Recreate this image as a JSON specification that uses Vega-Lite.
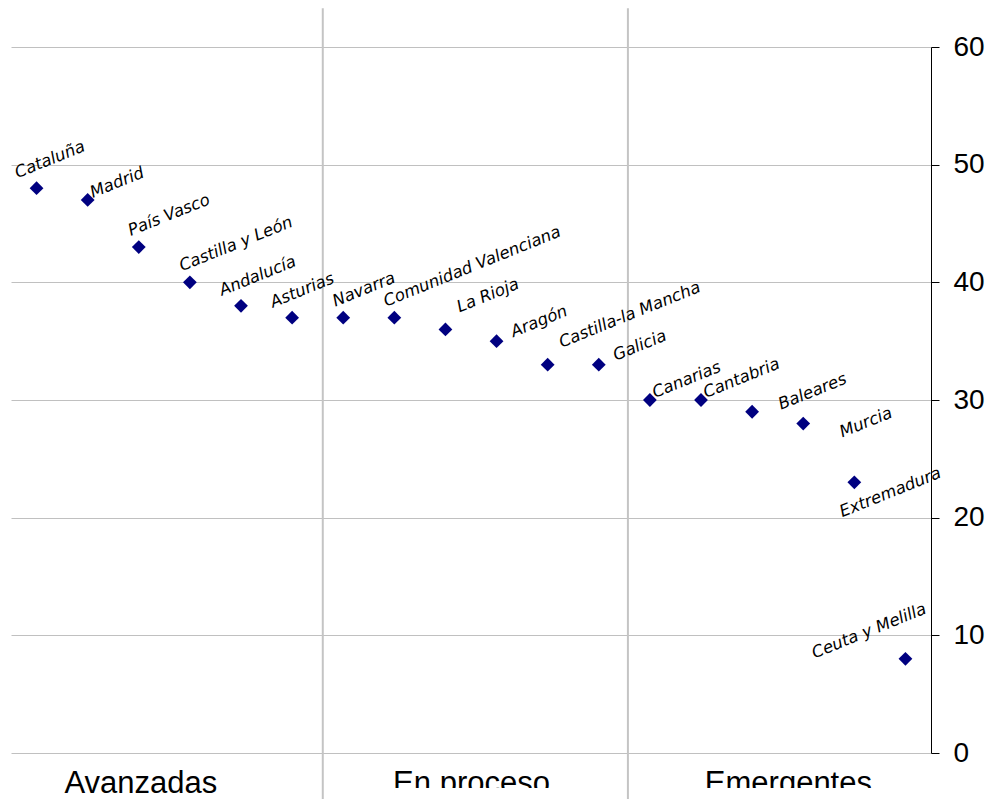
{
  "$schema": "https://vega.github.io/schema/vega-lite/v6.json",
  "width": 920,
  "height": 706,
  "autosize": "none",
  "padding": {"left": 11, "top": 47, "right": 64, "bottom": 46},
  "background": "white",
  "config": {"view": {"stroke": null}},
  "layer": [
    {
      "data": {"values": [
        {"grupo": "Avanzadas", "centro": 3.04},
        {"grupo": "En proceso", "centro": 9.51},
        {"grupo": "Emergentes", "centro": 15.71}
      ]},
      "mark": {"type": "text", "font": "Liberation Sans", "fontSize": 31, "color": "#000000", "align": "center", "baseline": "alphabetic"},
      "encoding": {
        "x": {"field": "centro", "type": "quantitative", "scale": {"domain": [0.5, 18.5], "nice": false, "zero": false}, "axis": null},
        "y": {"datum": -3.4, "type": "quantitative"},
        "text": {"field": "grupo"}
      }
    },
    {
      "data": {"values": [{"desde": 8, "hasta": 17.5, "arriba": -2.97, "abajo": -5}]},
      "mark": {"type": "rect", "color": "white"},
      "encoding": {
        "x": {"field": "desde", "type": "quantitative"}, "x2": {"field": "hasta"},
        "y": {"field": "arriba", "type": "quantitative"}, "y2": {"field": "abajo"}
      }
    },
    {
      "data": {"values": [
        {"limite": 6.6, "arriba": 63.3, "abajo": -4.5},
        {"limite": 12.57, "arriba": 63.3, "abajo": -4.5}
      ]},
      "mark": {"type": "rule", "color": "#c4c4c4", "strokeWidth": 2},
      "encoding": {
        "x": {"field": "limite", "type": "quantitative"},
        "y": {"field": "arriba", "type": "quantitative"}, "y2": {"field": "abajo"}
      }
    },
    {
      "data": {"values": [
        {"region": "Cataluña", "orden": 1, "valor": 48},
        {"region": "Madrid", "orden": 2, "valor": 47},
        {"region": "País Vasco", "orden": 3, "valor": 43},
        {"region": "Castilla y León", "orden": 4, "valor": 40},
        {"region": "Andalucía", "orden": 5, "valor": 38},
        {"region": "Asturias", "orden": 6, "valor": 37},
        {"region": "Navarra", "orden": 7, "valor": 37},
        {"region": "Comunidad Valenciana", "orden": 8, "valor": 37},
        {"region": "La Rioja", "orden": 9, "valor": 36},
        {"region": "Aragón", "orden": 10, "valor": 35},
        {"region": "Castilla-la Mancha", "orden": 11, "valor": 33},
        {"region": "Galicia", "orden": 12, "valor": 33},
        {"region": "Canarias", "orden": 13, "valor": 30},
        {"region": "Cantabria", "orden": 14, "valor": 30},
        {"region": "Baleares", "orden": 15, "valor": 29},
        {"region": "Murcia", "orden": 16, "valor": 28},
        {"region": "Extremadura", "orden": 17, "valor": 23},
        {"region": "Ceuta y Melilla", "orden": 18, "valor": 8}
      ]},
      "encoding": {
        "x": {"field": "orden", "type": "quantitative"},
        "y": {"field": "valor", "type": "quantitative", "scale": {"domain": [0, 60], "nice": false, "zero": false},
          "axis": {"orient": "right", "values": [0, 10, 20, 30, 40, 50, 60], "grid": true, "gridColor": "#c0c0c0", "gridWidth": 1,
            "domainColor": "#000000", "domainWidth": 1, "tickColor": "#000000", "tickSize": 8, "tickWidth": 1,
            "labelFont": "Liberation Sans", "labelFontSize": 28, "labelColor": "#000000", "labelPadding": 14, "title": null}}
      },
      "layer": [
        {
          "mark": {"type": "point", "shape": "diamond", "filled": true, "size": 190, "color": "#000080", "opacity": 1}
        },
        {
          "transform": [{"filter": {"field": "region", "oneOf": ["Cataluña", "Andalucía", "Asturias"]}}],
          "mark": {"type": "text", "font": "DejaVu Sans", "fontStyle": "italic", "fontSize": 16.5, "color": "#000000", "align": "left", "baseline": "alphabetic", "angle": 338, "xOffset": -19, "yOffset": -10},
          "encoding": {"text": {"field": "region"}}
        },
        {
          "transform": [{"filter": {"field": "region", "oneOf": ["País Vasco", "Castilla y León", "Navarra", "Comunidad Valenciana"]}}],
          "mark": {"type": "text", "font": "DejaVu Sans", "fontStyle": "italic", "fontSize": 16.5, "color": "#000000", "align": "left", "baseline": "alphabetic", "angle": 338, "xOffset": -8, "yOffset": -11},
          "encoding": {"text": {"field": "region"}}
        },
        {
          "transform": [{"filter": {"field": "region", "oneOf": ["Madrid", "Canarias", "Cantabria"]}}],
          "mark": {"type": "text", "font": "DejaVu Sans", "fontStyle": "italic", "fontSize": 16.5, "color": "#000000", "align": "left", "baseline": "alphabetic", "angle": 338, "xOffset": 5, "yOffset": -2},
          "encoding": {"text": {"field": "region"}}
        },
        {
          "transform": [{"filter": {"field": "region", "oneOf": ["La Rioja", "Castilla-la Mancha"]}}],
          "mark": {"type": "text", "font": "DejaVu Sans", "fontStyle": "italic", "fontSize": 16.5, "color": "#000000", "align": "left", "baseline": "alphabetic", "angle": 338, "xOffset": 14, "yOffset": -17},
          "encoding": {"text": {"field": "region"}}
        },
        {
          "transform": [{"filter": {"field": "region", "oneOf": ["Aragón", "Galicia"]}}],
          "mark": {"type": "text", "font": "DejaVu Sans", "fontStyle": "italic", "fontSize": 16.5, "color": "#000000", "align": "left", "baseline": "alphabetic", "angle": 338, "xOffset": 17, "yOffset": -4},
          "encoding": {"text": {"field": "region"}}
        },
        {
          "transform": [{"filter": {"field": "region", "equal": "Baleares"}}],
          "mark": {"type": "text", "font": "DejaVu Sans", "fontStyle": "italic", "fontSize": 16.5, "color": "#000000", "align": "left", "baseline": "alphabetic", "angle": 338, "xOffset": 29, "yOffset": -2},
          "encoding": {"text": {"field": "region"}}
        },
        {
          "transform": [{"filter": {"field": "region", "equal": "Murcia"}}],
          "mark": {"type": "text", "font": "DejaVu Sans", "fontStyle": "italic", "fontSize": 16.5, "color": "#000000", "align": "left", "baseline": "alphabetic", "angle": 338, "xOffset": 39, "yOffset": 14},
          "encoding": {"text": {"field": "region"}}
        },
        {
          "transform": [{"filter": {"field": "region", "equal": "Extremadura"}}],
          "mark": {"type": "text", "font": "DejaVu Sans", "fontStyle": "italic", "fontSize": 16.5, "color": "#000000", "align": "left", "baseline": "alphabetic", "angle": 338, "xOffset": -12, "yOffset": 35},
          "encoding": {"text": {"field": "region"}}
        },
        {
          "transform": [{"filter": {"field": "region", "equal": "Ceuta y Melilla"}}],
          "mark": {"type": "text", "font": "DejaVu Sans", "fontStyle": "italic", "fontSize": 16.5, "color": "#000000", "align": "right", "baseline": "alphabetic", "angle": 338, "xOffset": 22, "yOffset": -46},
          "encoding": {"text": {"field": "region"}}
        }
      ]
    }
  ]
}
